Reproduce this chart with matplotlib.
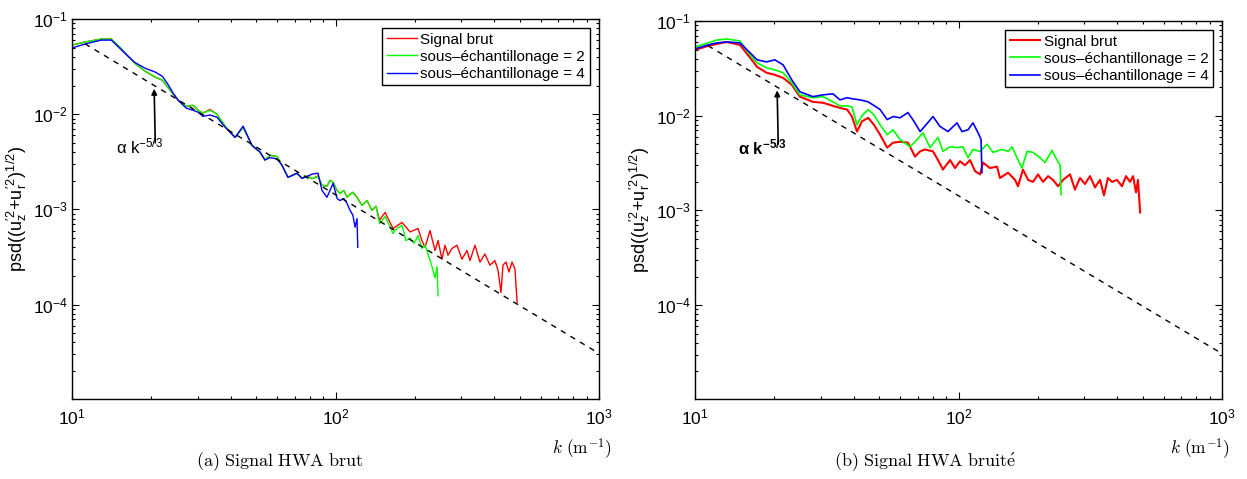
import numpy as np
import matplotlib
matplotlib.use("Agg")
import matplotlib.pyplot as plt
from matplotlib.ticker import LogLocator, NullFormatter

plt.rcParams['font.family'] = ['Liberation Sans', 'DejaVu Sans']
plt.rcParams['mathtext.fontset'] = 'cm'

# ------------------------------------------------------------
# DATA
# ------------------------------------------------------------
# (a) Signal HWA brut
k_s2_a = [10.0, 11.2, 12.9, 14.1, 15.3, 16.3, 17.3, 18.9, 20.7, 22.0, 23.1, 24.2,
          25.3, 27.1, 28.8, 30.1, 31.4, 33.4, 35.5, 38.1, 41.6, 44.6, 48.2, 51.7,
          54.0, 56.4, 60.0, 62.7, 66.0, 71.4, 74.6, 78.0, 81.5, 85.8, 88.9, 92.8,
          95.3, 97.9, 101.4, 104, 107.6, 110.6, 113.5, 116.4, 120.7, 126.1, 131.7,
          137.5, 142.4, 147, 154.2, 165.3, 171.2, 178.8, 185.2, 191.8, 198.6,
          205.6, 212.9, 218.8, 224.5, 232.5, 238.6, 242.8, 245]
psd_s2_a = [0.0532, 0.0573, 0.0616, 0.0616, 0.0496, 0.0408, 0.0344, 0.0284, 0.0245,
            0.0228, 0.0192, 0.0163, 0.0140, 0.0121, 0.0124, 0.0110, 0.0103, 0.0110,
            0.0100, 0.0075, 0.0057, 0.0073, 0.0047, 0.0040, 0.0033, 0.0037, 0.0036,
            0.0029, 0.00217, 0.0024, 0.00212, 0.00225, 0.0021, 0.00222, 0.00179,
            0.00175, 0.00202, 0.00193, 0.00158, 0.00147, 0.00158, 0.00134, 0.00144,
            0.00151, 0.00134, 0.0011, 0.00124, 0.00098, 0.00108, 0.00071, 0.00084,
            0.00056, 0.00063, 0.00068, 0.00047, 0.0005, 0.00044, 0.00053, 0.00039,
            0.00042, 0.00034, 0.00025, 0.00019, 0.00025, 0.000124]

k_s4_a = [10.0, 11.2, 12.9, 14.1, 15.3, 16.3, 17.3, 18.9, 20.7, 22.0, 23.1, 24.2,
          25.3, 27.1, 28.8, 30.1, 31.4, 33.4, 35.5, 38.1, 41.6, 44.6, 48.2, 51.7,
          54.0, 56.4, 60.0, 62.7, 66.0, 71.4, 74.6, 78.0, 81.5, 85.8, 88.9, 92.8,
          95.3, 97.9, 101.4, 104, 107.6, 110.6, 113.5, 116.4, 118.6, 120.7, 121.5]
psd_s4_a = [0.0496, 0.0546, 0.0600, 0.0600, 0.0483, 0.0408, 0.0350, 0.0305, 0.0277,
            0.0251, 0.0207, 0.0166, 0.0140, 0.0116, 0.0110, 0.0105, 0.0095, 0.0098,
            0.0093, 0.0073, 0.0057, 0.0075, 0.0047, 0.0040, 0.0033, 0.0035, 0.0034,
            0.0029, 0.00217, 0.0024, 0.00212, 0.00222, 0.00235, 0.0024, 0.00158,
            0.00134, 0.00158, 0.00188, 0.0013, 0.00124, 0.0013, 0.00116, 0.00098,
            0.00087, 0.00065, 0.0008, 0.0004]

k_brut_a = [10.0, 11.2, 12.9, 14.1, 15.3, 16.3, 17.3, 18.9, 20.7, 22.0, 23.1, 24.2,
            25.3, 27.1, 28.8, 30.1, 31.4, 33.4, 35.5, 38.1, 41.6, 44.6, 48.2, 51.7,
            54.0, 56.4, 60.0, 62.7, 66.0, 71.4, 74.6, 78.0, 81.5, 85.8, 88.9, 92.8,
            95.3, 97.9, 101.4, 104, 107.6, 110.6, 113.5, 116.4, 120.7, 126.1, 131.7,
            137.5, 142.4, 147, 154.2, 165.3, 178.8, 191.8, 205.6, 212.9, 218.8,
            228.4, 238.6, 245, 253.6, 260.4, 267.3, 276.7, 289.1, 302, 315.5, 323.9,
            338.4, 353.3, 369, 385.5, 402.7, 413.8, 424.6, 432.2, 443.6, 455.3,
            467.7, 479.8, 489]
psd_brut_a = [0.0532, 0.0573, 0.0616, 0.0616, 0.0496, 0.0408, 0.0344, 0.0284, 0.0245,
              0.0228, 0.0192, 0.0163, 0.0140, 0.0121, 0.0124, 0.0110, 0.0103, 0.0112,
              0.0100, 0.0075, 0.0057, 0.0073, 0.0047, 0.0040, 0.0033, 0.0037, 0.0036,
              0.0029, 0.00217, 0.0024, 0.00212, 0.00225, 0.0021, 0.00225, 0.00179,
              0.00175, 0.00202, 0.00193, 0.00158, 0.00147, 0.00158, 0.00134, 0.00144,
              0.00151, 0.00134, 0.0011, 0.00124, 0.00098, 0.00108, 0.00077, 0.00093,
              0.00063, 0.00073, 0.00058, 0.00063, 0.00047, 0.0004, 0.0006, 0.00037,
              0.00047, 0.0003, 0.00042, 0.00033, 0.00039, 0.00042, 0.0003, 0.00037,
              0.00029, 0.00042, 0.00028, 0.00034, 0.00026, 0.00029, 0.00023, 0.000134,
              0.00026, 0.00028, 0.00022, 0.00028, 0.000237, 0.000105]

# (b) Signal HWA bruité
k_s4_b = [10.0, 11.2, 12.1, 13.2, 14.8, 16.2, 17.2, 18.7, 20.1, 21.6, 23.3, 25.0,
          28.0, 30.6, 33.4, 35.5, 37.8, 39.4, 42.3, 45.4, 47.8, 50.4, 53.6, 56.5,
          60.0, 64.3, 67.8, 71.5, 75.8, 80.0, 85.1, 91.2, 98.7, 103.1, 108.7,
          113.5, 118.6, 121.8, 122.7]
psd_s4_b = [0.0507, 0.0559, 0.0587, 0.0601, 0.0587, 0.0460, 0.0389, 0.0370, 0.0389,
            0.0344, 0.0239, 0.0179, 0.0159, 0.0166, 0.0170, 0.0147, 0.0155, 0.0151,
            0.0147, 0.0140, 0.0128, 0.0116, 0.0091, 0.0098, 0.0095, 0.0108, 0.0087,
            0.0068, 0.0082, 0.0098, 0.0077, 0.0068, 0.0084, 0.0068, 0.0071, 0.0084,
            0.0066, 0.0056, 0.0025]

k_s2_b = [10.0, 11.2, 12.1, 13.2, 14.8, 16.2, 17.2, 18.7, 20.1, 21.6, 23.3, 25.0,
          28.0, 30.6, 33.4, 35.5, 37.8, 39.4, 41.2, 43.0, 45.4, 47.8, 50.4, 53.6,
          56.5, 60.0, 65.5, 69.6, 73.3, 78.0, 83.6, 87.3, 92.9, 98.7, 104.0, 108.7,
          113.5, 120.7, 128.3, 135.2, 146.3, 154.2, 159.7, 166.8, 174.2, 182.0,
          191.8, 203.9, 212.9, 226.3, 232.5, 243, 245]
psd_s2_b = [0.0532, 0.0587, 0.0630, 0.0646, 0.0616, 0.0438, 0.0361, 0.0320, 0.0305,
            0.0284, 0.0222, 0.0166, 0.0155, 0.0159, 0.0140, 0.0127, 0.0127, 0.0124,
            0.0080, 0.0100, 0.0116, 0.0102, 0.0080, 0.0063, 0.0071, 0.0056, 0.0047,
            0.0056, 0.0066, 0.0046, 0.0059, 0.0042, 0.0047, 0.0046, 0.0047, 0.0036,
            0.0044, 0.0042, 0.0050, 0.0041, 0.0044, 0.0042, 0.0047, 0.0036, 0.0028,
            0.0042, 0.0041, 0.0036, 0.0032, 0.0043, 0.0037, 0.0030, 0.00147]

k_brut_b = [10.0, 11.2, 12.1, 13.2, 14.8, 16.2, 17.2, 18.7, 20.1, 21.6, 23.3, 25.0,
            28.0, 30.6, 33.4, 35.5, 37.8, 39.4, 41.2, 43.0, 45.4, 47.8, 50.4, 53.6,
            56.5, 60.0, 64.3, 68.4, 71.5, 74.6, 80.0, 83.6, 87.3, 92.9, 97.0, 101.3,
            105.9, 110.6, 115.5, 120.7, 123.9, 131.7, 140.0, 143.7, 154.2, 163.9,
            168.2, 175.7, 183.6, 191.8, 200.3, 209.3, 218.8, 228.4, 238.6, 249.3,
            265.0, 276.7, 289.1, 302.0, 315.5, 329.6, 344.4, 356.6, 369.0, 382.4,
            399.5, 417.3, 432.2, 447.7, 459.6, 471.7, 480.0, 489.0]
psd_brut_b = [0.0495, 0.0545, 0.0573, 0.0601, 0.0559, 0.0408, 0.0328, 0.0284, 0.0270,
              0.0251, 0.0212, 0.0159, 0.0140, 0.0137, 0.0127, 0.0121, 0.0116, 0.0098,
              0.0068, 0.0087, 0.0095, 0.0080, 0.0063, 0.0046, 0.0052, 0.0053, 0.0052,
              0.0037, 0.0042, 0.0044, 0.0042, 0.0034, 0.0027, 0.0034, 0.0028, 0.0033,
              0.0030, 0.0034, 0.0026, 0.0024, 0.0032, 0.0028, 0.0029, 0.0022, 0.0025,
              0.0021, 0.0018, 0.0027, 0.0021, 0.0020, 0.0024, 0.0020, 0.0023, 0.0021,
              0.0018, 0.0021, 0.0024, 0.00166, 0.0022, 0.0019, 0.0023, 0.00175, 0.0021,
              0.00144, 0.0022, 0.0020, 0.0021, 0.0018, 0.0023, 0.0020, 0.0023, 0.00155,
              0.0021, 0.00095]

# reference slope alpha k^-5/3 (end points)
k_ref = [11.2, 1000]
psd_ref = [0.0549, 3.07e-5]

legend_labels = ['Signal brut', 'sous\u2013\u00e9chantillonage = 2',
                 'sous\u2013\u00e9chantillonage = 4']
captions = [r'$\mathrm{(a)\ Signal\ HWA\ brut}$',
            r'$\mathrm{(b)\ Signal\ HWA\ bruit\acute{e}}$']
ylabel = ("psd((u$_{\\mathregular{z}}^{\\mathregular{\u20322}}$"
          "+u$_{\\mathregular{r}}^{\\mathregular{\u20322}}$)"
          "$^{\\mathregular{1/2}}$)")

panels = [
    (k_brut_a, psd_brut_a, k_s2_a, psd_s2_a, k_s4_a, psd_s4_a),
    (k_brut_b, psd_brut_b, k_s2_b, psd_s2_b, k_s4_b, psd_s4_b),
]

# ------------------------------------------------------------
# FIGURE
# ------------------------------------------------------------
W, H = 1247, 479
fig = plt.figure(figsize=(W / 100, H / 100), dpi=100)

ax_boxes = [(72, 19, 527, 380), (695, 21, 527, 378)]
cap_x = [280, 925]
klab_x = [612, 1230]
lws = [(1.0, 1.0, 1.0), (1.5, 1.2, 1.2)]
ann_weight = ['normal', 'bold']

for i, (box, data) in enumerate(zip(ax_boxes, panels)):
    x0, y0, w, h = box
    ax = fig.add_axes([x0 / W, 1 - (y0 + h) / H, w / W, h / H])
    kb, pb, k2, p2, k4, p4 = data
    lw_r, lw_g, lw_b = lws[i]
    ax.loglog(kb, pb, color='red', lw=lw_r, label=legend_labels[0])
    ax.loglog(k2, p2, color='#00ff00', lw=lw_g, label=legend_labels[1])
    ax.loglog(k4, p4, color='blue', lw=lw_b, label=legend_labels[2])
    ax.loglog(k_ref, psd_ref, color='black', lw=1.0, ls=(0, (4, 4)))

    ax.set_xlim(10, 1000)
    ax.set_ylim(1.02e-5, 0.1)
    ax.set_xticks([10, 100, 1000],
                  [r'$\mathregular{10^{1}}$', r'$\mathregular{10^{2}}$', r'$\mathregular{10^{3}}$'])
    ax.set_yticks([1e-4, 1e-3, 1e-2, 1e-1],
                  [r'$\mathregular{10^{-4}}$', r'$\mathregular{10^{-3}}$',
                   r'$\mathregular{10^{-2}}$', r'$\mathregular{10^{-1}}$'])
    ax.xaxis.set_minor_locator(LogLocator(base=10, subs=np.arange(2, 10), numticks=20))
    ax.yaxis.set_minor_locator(LogLocator(base=10, subs=np.arange(2, 10), numticks=20))
    ax.xaxis.set_minor_formatter(NullFormatter())
    ax.yaxis.set_minor_formatter(NullFormatter())
    ax.tick_params(which='both', direction='in', top=True, right=True,
                   labelsize=12.5, width=0.8)
    ax.tick_params(which='major', length=5)
    ax.tick_params(which='minor', length=2.5)
    ax.tick_params(axis='x', pad=6)
    ax.tick_params(axis='y', pad=3)
    for s in ax.spines.values():
        s.set_linewidth(1.0)

    ax.set_ylabel(ylabel, fontsize=13, labelpad=3)

    leg = ax.legend(loc='upper right', fontsize=11, frameon=True, fancybox=False,
                    edgecolor='black', framealpha=1, handlelength=2.0,
                    handletextpad=0.2, borderpad=0.3, labelspacing=0.2,
                    borderaxespad=0.6)
    leg.get_frame().set_linewidth(1.0)

    ax.annotate('', xy=(20.5, 0.0185), xytext=(20.7, 0.0050),
                arrowprops=dict(arrowstyle='-|>', color='black', lw=1.2,
                                mutation_scale=8, shrinkA=0, shrinkB=0))
    ax.text(18.0, 0.0046, r'α k$\mathregular{^{-5/3}}$', fontsize=12,
            fontweight=ann_weight[i], ha='center', va='center')

    fig.text(klab_x[i] / W, 1 - 449 / H, r'$k\ (\mathrm{m}^{-1})$', fontsize=12.5,
             ha='right', va='center')
    fig.text(cap_x[i] / W, 1 - 462 / H, captions[i], fontsize=13,
             ha='center', va='center')

fig.savefig('out.png', dpi=100)
